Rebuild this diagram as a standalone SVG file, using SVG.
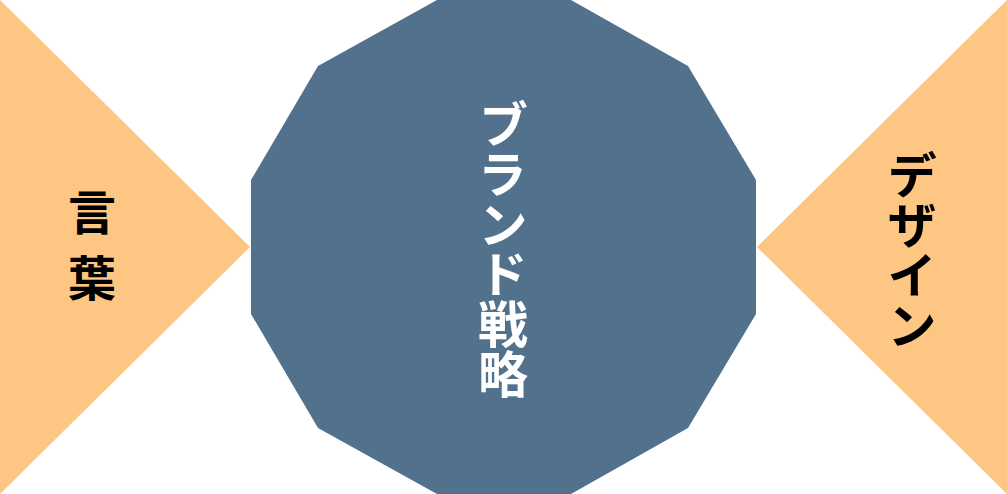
<svg xmlns="http://www.w3.org/2000/svg" width="1007" height="494" viewBox="0 0 1007 494">
<style>
.side{fill:#FDC682}
.core{fill:#52718D}
.t{font-family:"Noto Sans CJK JP","Noto Sans",sans-serif;font-weight:bold;writing-mode:vertical-rl;text-anchor:start}
.dark{fill:#000}
.light{fill:#fff}
</style>
<rect width="1007" height="494" fill="#fff"/>
<g id="left">
<polygon class="side" points="0,0 250,247 0,494"/>
<text class="t dark" x="92" y="188" font-size="48" letter-spacing="18">言葉</text>
</g>
<g id="right">
<polygon class="side" points="1007,0 757,247 1007,494"/>
<text class="t dark" x="912" y="150" font-size="50">デザイン</text>
</g>
<g id="center">
<polygon class="core" points="437,0 571,0 688,66 756,180 756,314 688,428 571,494 437,494 318,428 251,314 251,180 318,66"/>
<text class="t light" x="503" y="99" font-size="50">ブランド戦略</text>
</g>
<g id="connectors"/>
</svg>
